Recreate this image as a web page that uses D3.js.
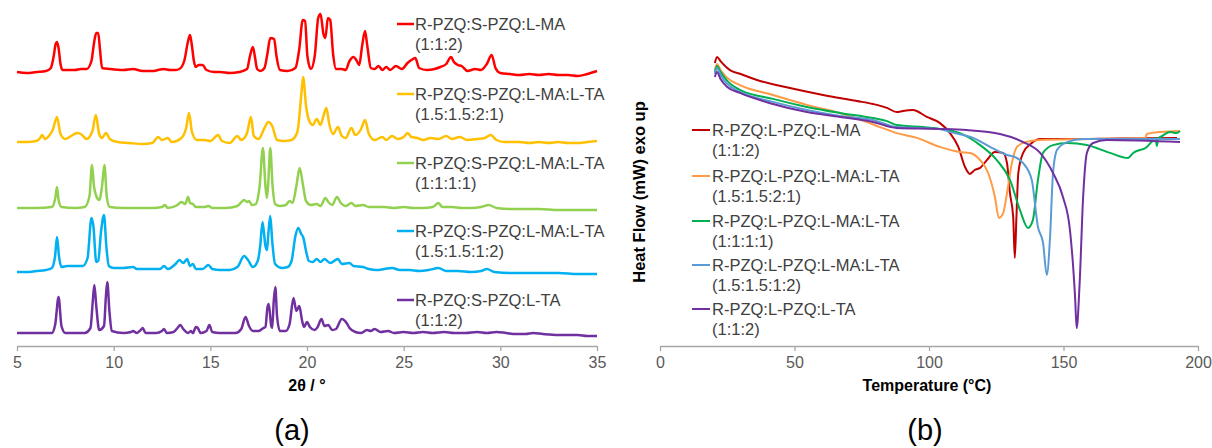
<!DOCTYPE html>
<html><head><meta charset="utf-8">
<script src="https://cdn.jsdelivr.net/npm/d3@7/dist/d3.min.js"></script>
<style>
body{margin:0;background:#fff;}
svg text{font-family:"Liberation Sans",Arial,sans-serif;}
</style></head>
<body><svg id="c" width="1212" height="448"></svg>
<script>
// ---------- Panel (a): XRPD patterns, [2θ, stacked intensity (a.u.)] ----------
const xrpdLabels = [
  ["R-PZQ:S-PZQ:L-MA","(1:1:2)"],
  ["R-PZQ:S-PZQ:L-MA:L-TA","(1.5:1.5:2:1)"],
  ["R-PZQ:S-PZQ:L-MA:L-TA","(1:1:1:1)"],
  ["R-PZQ:S-PZQ:L-MA:L-TA","(1.5:1.5:1:2)"],
  ["R-PZQ:S-PZQ:L-TA","(1:1:2)"]
];
const xrpdColors = ["#FF0000","#FFC000","#92D050","#00B0F0","#7030A0"];
const xrpdTicks = [5,10,15,20,25,30,35];

const xrpdRed = [[5,274],[5.5,273],[6,274],[6.5,275],[6.75,278],[6.9,290],[7,302],[7.07,304],[7.15,298],[7.25,282],[7.35,276],[7.6,276],[8,276],[8.3,277],[8.6,277],[8.85,285],[9,305],[9.1,313],[9.2,313],[9.3,295],[9.4,278],[9.8,277],[10.5,276],[11,277],[11.5,275],[12,275],[12.3,276],[12.6,277],[12.9,276],[13.2,276],[13.4,277],[13.65,285],[13.85,305],[13.95,311],[14.05,300],[14.15,285],[14.25,279],[14.4,281],[14.6,281],[14.8,276],[15.2,274],[15.5,274],[16,273],[16.5,274],[16.9,277],[17.05,290],[17.2,299],[17.3,290],[17.42,277],[17.6,275],[17.8,278],[17.95,292],[18.1,308],[18.3,307],[18.42,290],[18.6,276],[19,275],[19.4,278],[19.6,297],[19.78,326],[19.9,325],[20.02,290],[20.2,277],[20.4,290],[20.58,328],[20.7,332],[20.85,312],[20.95,308],[21.08,328],[21.2,326],[21.35,292],[21.5,277],[21.8,277],[22,276],[22.2,285],[22.4,289],[22.55,286],[22.7,281],[22.85,300],[23,315],[23.12,300],[23.3,278],[23.5,277],[23.7,280],[23.9,276],[24.1,279],[24.3,276],[24.6,280],[24.9,277],[25.2,283],[25.4,286],[25.6,288],[25.8,278],[26.2,276],[26.6,277],[26.9,279],[27.2,282],[27.45,289],[27.6,284],[27.8,281],[28,280],[28.3,275],[28.7,277],[29,276],[29.3,282],[29.55,291],[29.75,278],[30,273],[30.5,272],[31,271],[31.5,272],[32,271],[32.5,272],[33,271],[33.5,271],[34,270],[34.5,272],[35,275]];

const xrpdYellow = [[5,204],[5.5,204],[6,205],[6.2,208],[6.3,211],[6.45,207],[6.6,209],[6.85,216],[7.07,229],[7.25,212],[7.5,207],[7.8,210],[8.1,213],[8.3,212],[8.6,207],[8.9,215],[9.08,231],[9.25,212],[9.4,208],[9.6,213],[9.8,207],[10.2,204],[10.8,203],[11.5,202],[12,203],[12.3,209],[12.5,206],[12.8,208],[13,204],[13.5,208],[13.75,218],[13.9,233],[14.05,214],[14.3,206],[14.7,206],[15,205],[15.4,211],[15.6,205],[16,203],[16.4,210],[16.6,206],[16.9,213],[17.1,229],[17.25,210],[17.5,207],[17.8,218],[18,224],[18.2,220],[18.45,206],[18.8,205],[19.2,206],[19.5,214],[19.7,250],[19.8,269],[19.95,240],[20.1,226],[20.3,221],[20.5,227],[20.7,221],[20.85,230],[21,238],[21.15,222],[21.35,212],[21.6,219],[21.8,210],[22,208],[22.3,218],[22.5,211],[22.8,217],[23,226],[23.2,212],[23.5,206],[23.9,209],[24.1,206],[24.4,210],[24.7,207],[25,209],[25.2,213],[25.4,209],[25.7,208],[26,206],[26.4,208],[26.8,207],[27.2,210],[27.5,207],[27.9,209],[28.3,206],[28.8,207],[29.2,208],[29.5,211],[29.8,206],[30.2,204],[31,204],[31.5,203],[32,204],[32.5,203],[33,204],[33.5,203],[34,203],[34.5,204],[35,205]];

const xrpdGreen = [[5,138],[6,138],[6.8,139],[6.98,148],[7.07,159],[7.15,146],[7.3,139],[8,138],[8.5,139],[8.75,150],[8.88,181],[8.98,160],[9.1,150],[9.25,146],[9.4,160],[9.52,181],[9.65,148],[9.8,139],[10.5,138],[11,138],[12,138],[12.5,139],[12.65,141],[12.8,138],[13.3,141],[13.5,144],[13.7,142],[13.85,149],[13.95,143],[14.1,142],[14.25,139],[14.7,139],[14.9,140],[15.1,138],[15.8,138],[16.4,140],[16.75,146],[16.9,144],[17,145],[17.15,141],[17.35,142],[17.55,160],[17.72,198],[17.85,160],[17.93,148],[18,165],[18.1,198],[18.22,160],[18.35,142],[18.6,140],[18.9,141],[19.1,145],[19.25,143],[19.45,160],[19.62,178],[19.8,160],[19.95,145],[20.2,141],[20.5,142],[20.7,140],[20.95,148],[21.1,144],[21.3,141],[21.55,149],[21.75,143],[22,140],[22.3,143],[22.5,140],[22.9,141],[23.2,139],[23.6,139],[24,139],[24.5,138],[25,139],[25.5,138],[26,138],[26.5,139],[26.8,143],[27,139],[27.5,139],[28,138],[28.5,138],[29,139],[29.4,141],[29.8,138],[30.5,137],[31,137],[31.5,137],[32,137],[33,136],[34,136],[35,136]];

const xrpdBlue = [[5,74],[5.5,74],[6,75],[6.5,76],[6.8,78],[6.97,90],[7.07,109],[7.17,90],[7.3,79],[7.6,80],[8,80],[8.4,80],[8.65,88],[8.85,128],[8.95,120],[9.1,84],[9.2,85],[9.35,115],[9.5,131],[9.62,100],[9.75,80],[10,78],[10.5,78],[11,79],[11.2,77],[11.5,77],[12,77],[12.4,77],[12.6,80],[12.8,77],[13.2,82],[13.4,86],[13.6,83],[13.8,87],[13.95,80],[14.1,82],[14.25,77],[14.6,77],[14.9,81],[15.1,77],[15.5,76],[16,76],[16.4,79],[16.75,90],[16.95,86],[17.2,79],[17.45,85],[17.58,100],[17.7,124],[17.85,100],[17.93,96],[18,112],[18.1,130],[18.2,105],[18.35,82],[18.7,78],[19,79],[19.2,85],[19.4,110],[19.55,118],[19.7,112],[19.8,109],[19.95,95],[20.1,85],[20.3,84],[20.5,87],[20.7,84],[20.9,87],[21.2,83],[21.6,87],[21.8,82],[22.2,83],[22.4,80],[22.9,79],[23.2,77],[23.6,76],[24,77],[24.4,78],[24.8,76],[25.3,76],[25.8,75],[26.3,76],[26.8,78],[27.2,75],[27.8,75],[28.5,74],[29,75],[29.3,77],[29.7,74],[30.5,73],[31,73],[31.5,73],[32,73],[33,73],[34,72],[35,72]];

const xrpdPurple = [[5,13],[6,13],[6.8,13],[6.98,22],[7.15,49],[7.3,20],[7.5,13],[8.5,13],[8.8,18],[8.92,45],[9,61],[9.1,40],[9.25,16],[9.5,20],[9.6,50],[9.67,64],[9.78,35],[9.9,15],[10.5,13],[10.9,14],[11,15],[11.2,13],[11.4,16],[11.5,18],[11.65,13],[12.2,13],[12.5,15],[12.6,17],[12.75,13],[13.1,14],[13.3,18],[13.45,21],[13.6,17],[13.85,13],[14,15],[14.1,13],[14.25,19],[14.35,18],[14.5,13],[14.8,15],[14.95,21],[15.1,14],[15.5,13],[16.3,13],[16.6,17],[16.82,29],[17,20],[17.2,15],[17.5,15],[17.75,18],[17.85,19],[17.95,38],[18.02,42],[18.15,20],[18.2,18],[18.28,45],[18.36,59],[18.45,30],[18.6,15],[18.9,15],[19.1,22],[19.3,48],[19.45,35],[19.6,40],[19.75,25],[19.85,19],[20,24],[20.15,19],[20.4,16],[20.55,19],[20.75,27],[20.9,20],[21.1,21],[21.3,16],[21.5,17],[21.8,27],[22.05,23],[22.2,18],[22.5,14],[22.8,13],[23.1,16],[23.3,15],[23.5,17],[23.8,14],[24.2,15],[24.5,13],[25,14],[25.5,13],[26,14],[26.5,13],[27.1,14],[27.6,13],[28.2,13],[28.8,14],[29.3,13],[29.8,14],[30.3,13],[30.8,12],[31.3,12],[31.7,13],[32.2,12],[33,11],[33.5,11],[34,11],[34.5,10],[35,10]];

const xrpdSeries = [xrpdRed, xrpdYellow, xrpdGreen, xrpdBlue, xrpdPurple];

// ---------- Panel (b): DSC curves, [T (°C), heat flow (mW)] ----------
const dscLabels = [
  ["R-PZQ:L-PZQ:L-MA","(1:1:2)"],
  ["R-PZQ:L-PZQ:L-MA:L-TA","(1.5:1.5:2:1)"],
  ["R-PZQ:L-PZQ:L-MA:L-TA","(1:1:1:1)"],
  ["R-PZQ:L-PZQ:L-MA:L-TA","(1.5:1.5:1:2)"],
  ["R-PZQ:L-PZQ:L-TA","(1:1:2)"]
];
const dscColors = ["#C00000","#FF9A45","#00B050","#5B9BD5","#7030A0"];
const dscTicks = [0,50,100,150,200];

const dscRed = [[20.4,2.57],[21.2,2.77],[22.5,2.63],[26,2.33],[30,2.2],[36,2.0],[48.3,1.73],[60.6,1.5],[73.2,1.3],[79.2,1.2],[84.4,1.07],[88,0.93],[90.3,0.97],[94,1.0],[99.2,0.77],[104,0.57],[107.8,0.23],[110.9,-0.23],[113.4,-0.9],[115.2,-1.13],[117,-1.0],[119,-0.93],[121.5,-0.67],[124.5,-0.4],[127.6,-0.43],[129,-0.77],[130.1,-1.77],[131.3,-2.57],[131.9,-3.93],[132.5,-2.57],[133.2,-1.1],[135,-0.43],[138.2,-0.1],[141.3,0.03],[151,0.03],[170,0.05],[192.2,0.07]];
const dscOrange = [[20.4,2.33],[21.2,2.53],[22.5,2.33],[25,2.07],[29.7,1.83],[42,1.5],[54.6,1.17],[66.9,0.9],[76.9,0.6],[81.8,0.43],[88,0.23],[95.5,0.07],[104,-0.23],[111.5,-0.4],[115.2,-0.43],[119,-0.67],[122,-1.1],[124.5,-1.9],[126,-2.6],[127.6,-2.43],[129,-1.77],[130.8,-0.77],[132.7,-0.23],[135.7,-0.07],[141.3,0],[160,0.03],[180.3,0.07],[181,0.2],[185.9,0.27],[193.3,0.3]];
const dscGreen = [[20.4,2.27],[21.2,2.47],[22.5,2.27],[25,1.97],[29.7,1.67],[42,1.37],[54.6,1.1],[66.9,0.9],[79.2,0.73],[84.4,0.63],[88,0.5],[91.7,0.47],[97.8,0.43],[104,0.37],[111.5,0.23],[119,-0.17],[125.2,-0.67],[130.1,-1.33],[133.8,-2.33],[136.8,-2.93],[138.6,-2.67],[140.5,-1.33],[142.4,-0.43],[146.1,-0.17],[151.3,-0.1],[158.7,-0.17],[167.3,-0.43],[174,-0.6],[175.9,-0.43],[181,-0.23],[183.4,0],[184.2,0.07],[184.7,-0.2],[185.3,0.07],[186,0.1],[189.6,0.27],[192,0.23],[193.3,0.3]];
const dscBlue = [[20.4,2.2],[21.2,2.4],[22.5,2.17],[25,1.87],[29.7,1.6],[42,1.27],[54.6,1.0],[66.9,0.8],[79.2,0.67],[88,0.43],[104,0.37],[107.8,0.27],[116.4,0.07],[122.7,-0.23],[129,-0.5],[132,-0.57],[135,-0.77],[138.2,-1.33],[140.5,-2.9],[142.4,-3.43],[143.8,-4.5],[145,-3.23],[146.1,-1.1],[147.6,-0.33],[151.3,-0.07],[157.3,0.03],[193.3,0.03]];
const dscPurple = [[20.4,2.1],[21.2,2.27],[22.5,2.03],[25,1.77],[29.7,1.57],[42,1.2],[54.6,0.93],[66.9,0.77],[79.2,0.6],[88,0.4],[104,0.37],[114,0.33],[126.4,0.2],[135,-0.07],[141.3,-0.43],[146.1,-1.1],[149.8,-1.9],[152.4,-3.0],[154.3,-5.23],[154.9,-6.27],[156,-4.77],[157.3,-1.9],[158.7,-0.43],[161,-0.1],[166.1,0],[193.3,-0.07]];

const dscSeries = [dscRed, dscOrange, dscGreen, dscBlue, dscPurple];

// ---------- drawing ----------
const svg = d3.select("#c");
const axisColor = "#A6A6A6", tickText = "#595959", legText = "#404040";

function drawXAxis(g, scale, ticks, y) {
  const ax = g.append("g").attr("transform", `translate(0,${y})`)
    .call(d3.axisBottom(scale).tickValues(ticks).tickSize(5).tickSizeOuter(0).tickPadding(6).tickFormat(d3.format("d")));
  ax.select(".domain").attr("stroke", axisColor).attr("stroke-width", 1.3);
  ax.selectAll(".tick line").attr("stroke", axisColor).attr("stroke-width", 1.3);
  ax.selectAll(".tick text").attr("fill", tickText).style("font-size", "16px")
    .style("font-family", "'Liberation Sans',Arial,sans-serif");
}

// Panel (a)
const xA = d3.scaleLinear().domain([5, 35]).range([17, 597]);
const yA = d3.scaleLinear().domain([0, 340]).range([346, 6]);
const gA = svg.append("g");
const lineA = d3.line().x(d => xA(d[0])).y(d => yA(d[1])).curve(d3.curveMonotoneX);
xrpdSeries.forEach((s, i) => {
  gA.append("path").datum(s).attr("d", lineA).attr("fill", "none")
    .attr("stroke", xrpdColors[i]).attr("stroke-width", 2.5).attr("stroke-linejoin", "round");
});
drawXAxis(gA, xA, xrpdTicks, 346);
gA.append("text").attr("x", 307).attr("y", 391).attr("text-anchor", "middle")
  .style("font-size", "16px").style("font-weight", "bold").attr("fill", "#000").text("2θ / °");
gA.append("text").attr("x", 292).attr("y", 440).attr("text-anchor", "middle")
  .style("font-size", "29px").attr("fill", "#000").text("(a)");

const legA = [24, 94, 163, 231, 300];
xrpdLabels.forEach((lab, i) => {
  const y0 = legA[i];
  gA.append("line").attr("x1", 397).attr("x2", 414).attr("y1", y0).attr("y2", y0)
    .attr("stroke", xrpdColors[i]).attr("stroke-width", 2.5);
  gA.append("text").attr("x", 415).attr("y", y0 + 6).style("font-size", "16.5px").attr("fill", legText).text(lab[0]);
  gA.append("text").attr("x", 415).attr("y", y0 + 26).style("font-size", "16.5px").attr("fill", legText).text(lab[1]);
});

// Panel (b)
const xB = d3.scaleLinear().domain([0, 200]).range([660, 1198]);
const yB = d3.scaleLinear().domain([-7, 3.5]).range([350, 35]);
const gB = svg.append("g");
const lineB = d3.line().x(d => xB(d[0])).y(d => yB(d[1])).curve(d3.curveMonotoneX);
dscSeries.forEach((s, i) => {
  gB.append("path").datum(s).attr("d", lineB).attr("fill", "none")
    .attr("stroke", dscColors[i]).attr("stroke-width", 2).attr("stroke-linejoin", "round");
});
drawXAxis(gB, xB, dscTicks, 346);
gB.append("text").attr("x", 927).attr("y", 391).attr("text-anchor", "middle")
  .style("font-size", "16px").style("font-weight", "bold").attr("fill", "#000").text("Temperature (°C)");
gB.append("text").attr("transform", "translate(645,192) rotate(-90)").attr("text-anchor", "middle")
  .style("font-size", "16.5px").style("font-weight", "bold").attr("fill", "#000").text("Heat Flow (mW) exo up");
gB.append("text").attr("x", 925).attr("y", 440).attr("text-anchor", "middle")
  .style("font-size", "29px").attr("fill", "#000").text("(b)");

const legB = [130, 176, 221, 265, 309];
dscLabels.forEach((lab, i) => {
  const y0 = legB[i];
  gB.append("line").attr("x1", 692).attr("x2", 710).attr("y1", y0).attr("y2", y0)
    .attr("stroke", dscColors[i]).attr("stroke-width", 2);
  gB.append("text").attr("x", 712).attr("y", y0 + 6).style("font-size", "16.5px").attr("fill", legText).text(lab[0]);
  gB.append("text").attr("x", 712).attr("y", y0 + 26).style("font-size", "16.5px").attr("fill", legText).text(lab[1]);
});
</script></body></html>
